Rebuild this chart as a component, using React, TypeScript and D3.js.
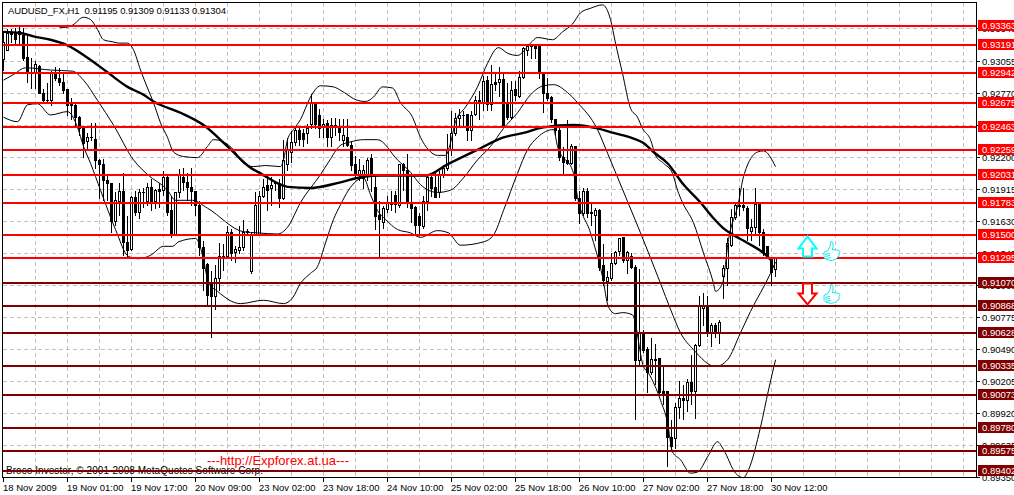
import React from "react";
import * as d3 from "d3";

// Prices are in pips (price x 10000)
const opens = [9307,9315,9331,9331,9332,9328,9309,9295,9295,9301,9277,9270,9270,9294,9290,9286,9280,9267,9266,9255,9245,9234,9237,9236,9217,9213,9199,9196,9163,9180,9189,9144,9138,9184,9171,9188,9180,9193,9180,9191,9190,9202,9172,9150,9188,9202,9197,9193,9189,9177,9139,9124,9107,9096,9112,9130,9131,9153,9135,9137,9139,9153,9118,9151,9151,9185,9195,9192,9196,9196,9183,9213,9224,9233,
9244,9241,9241,9249,9268,9257,9246,9250,9237,9248,9246,9235,9237,9230,9213,9204,9201,9204,9219,9193,9168,9162,9173,9178,9186,9177,9213,9208,9178,9175,9167,9158,9180,9202,9193,9188,9204,9210,9226,9241,9254,9257,9258,9244,9258,9270,9268,9288,9267,9286,9286,9289,9268,9255,9280,9274,9291,9315,9318,9318,9318,9294,9277,9273,9253,9244,9220,9217,9214,9229,9183,9170,9189,9170,9168,9172,9123,9109,9112,9125,9136,9148,9128,9131,9122,9039,9064,9049,9028,9040,9041,9011,9011,8970,8969,8997,9005,9003,9019,9011,9052,9085,9088,9063,9070,9063,9114,9121,9141,9166,9177,9177,9174,9154,9157,9178,9153,9140,9130,9119.5];
const highs = [9333,9334,9334,9335,9338,9335,9330,9309,9306,9302,9281,9286,9297,9301,9300,9295,9281,9273,9268,9257,9248,9242,9251,9251,9219,9219,9204,9197,9189,9197,9206,9168,9186,9190,9192,9193,9197,9201,9192,9197,9208,9204,9186,9188,9210,9211,9206,9211,9190,9181,9146,9126,9119,9124,9144,9143,9159,9156,9141,9159,9164,9156,9153,9189,9190,9201,9204,9203,9199,9201,9236,9237,9244,9246,
9246,9245,9250,9277,9268,9263,9254,9253,9255,9255,9254,9254,9254,9235,9221,9219,9213,9220,9223,9204,9181,9177,9186,9190,9190,9214,9215,9223,9204,9177,9171,9186,9204,9204,9206,9208,9213,9241,9261,9260,9263,9261,9258,9261,9275,9279,9293,9293,9302,9295,9301,9296,9286,9288,9288,9297,9318,9320,9320,9319,9319,9295,9291,9275,9253,9248,9229,9253,9232,9229,9190,9193,9193,9180,9175,9174,9143,9119,9135,9137,9148,9149,9137,9135,9124,9121,9066,9051,9059,9054,9041,9033,9012,8986,9001,9021,9017,9023,9044,9054,9097,9099,9097,9073,9073,9075,9124,9148,9174,9179,9193,9193,9177,9165,9193,9178,9156,9141,9130,9130.9];
const lows = [9297,9315,9322,9319,9319,9306,9286,9281,9281,9277,9269,9269,9266,9288,9284,9277,9257,9253,9248,9239,9220,9226,9235,9210,9183,9181,9181,9153,9159,9168,9132,9130,9137,9168,9165,9175,9177,9172,9174,9175,9186,9168,9148,9150,9184,9190,9181,9177,9168,9132,9101,9088,9059,9084,9101,9119,9130,9128,9126,9134,9137,9150,9116,9150,9150,9184,9172,9177,9190,9175,9182,9208,9215,9230,
9230,9229,9232,9245,9245,9237,9237,9229,9229,9239,9235,9229,9229,9208,9201,9199,9192,9199,9189,9155,9131,9156,9171,9172,9171,9175,9190,9175,9162,9150,9150,9156,9172,9185,9184,9184,9202,9208,9221,9239,9246,9248,9235,9235,9257,9253,9261,9261,9261,9279,9274,9246,9253,9253,9270,9273,9290,9310,9308,9308,9290,9260,9270,9251,9239,9217,9204,9213,9213,9181,9161,9168,9166,9159,9146,9119,9106,9092,9110,9124,9132,9126,9116,9121,8986,9035,9046,9010,9026,9017,9008,9000,8944,8959,8960,8987,8986,8993,9000,8987,9051,9070,9060,9051,9059,9054,9094,9106,9140,9164,9168,9172,9146,9146,9150,9141,9132,9131,9106,9113.3];
const closes = [9322,9330,9329,9325,9329,9308,9294,9294,9302,9277,9270,9270,9295,9290,9286,9279,9266,9266,9255,9245,9232,9237,9237,9217,9213,9199,9196,9163,9181,9189,9144,9137,9184,9171,9188,9188,9193,9180,9190,9189,9202,9171,9150,9188,9204,9197,9193,9189,9177,9139,9121,9097,9096,9112,9131,9131,9153,9134,9138,9139,9153,9154,9150,9177,9185,9193,9190,9195,9197,9183,9217,9226,9233,9244,
9236,9236,9245,9268,9249,9245,9249,9237,9248,9246,9242,9239,9230,9212,9204,9208,9208,9217,9204,9167,9164,9174,9179,9179,9178,9213,9208,9179,9174,9159,9159,9180,9202,9192,9184,9204,9210,9226,9241,9254,9257,9257,9244,9257,9270,9269,9287,9267,9285,9285,9289,9247,9255,9279,9275,9291,9317,9318,9318,9317,9294,9277,9272,9253,9244,9220,9215,9214,9229,9183,9170,9189,9170,9171,9172,9122,9110,9113,9125,9135,9147,9128,9135,9122,9039,9064,9048,9028,9040,9039,9010,9008,8970,8962,8997,9005,9003,9019,9011,9052,9088,9088,9063,9070,9063,9073,9121,9143,9166,9177,9176,9175,9156,9157,9178,9153,9135,9131,9117,9130.4];

const upperBars = [14,15.5,17.25,20,21.75,23.5,25,27.5,28.75,31,32.5,34.25,36,37.5,39.25,41,42.5,45,48.5,51,52.5,55,57.5,60,62.5,65.5,69.25,70,71,72.5,74.25,76.75,79.25,82.5,84.25,88.5,90.5,92.5,94.75,97.25,99.25,102.25,104.25,106.25,108.5,110.5,111.75,113,115.5,118.5,121,123.75,126,128.5,131.75,133.5,137.25,139.75,142.25,144.25,146.75,149.75,151.75,153,154.75,156.75,158.5,159.75,161.75,163,165,167.25,168.5,169.75,172.5,175,177.5,178,179.75,181.25,183.75,185,188.5,190,193];
const upperPips = [9335,9335,9337,9344,9342,9333,9324,9322,9321,9321,9315,9297,9281,9268,9250,9237,9224,9220,9219,9229,9235,9233,9226,9214,9211,9212,9211,9217,9235,9244,9253,9273,9283,9282,9279,9270,9269,9273,9282,9281,9268,9255,9237,9226,9221,9221,9232,9251,9264,9282,9303,9317,9312,9310,9321,9326,9324,9331,9338,9348,9352,9355,9342,9321,9294,9263,9255,9245,9235,9221,9214,9205,9190,9179,9161,9134,9107,9100,9107,9146,9179,9202,9224,9225,9211];

const midBars = [0,2.5,5.5,11.75,17.25,20,23.5,27.5,32.5,36,41,43,47.25,51,60,63.5,68.5,71,74.25,79.25,81.25,84.25,86.75,90,93.5,98.5,101.75,104.25,108.5,111.75,115,118.5,121.75,125,128.5,131.75,135,137.5,141,143.5,148.5,151,156,159.25,164.25,166.75,169.25,172.5,178,181,184.25,186.75,191.75,193];
const midPips = [9288,9293,9299,9297,9296,9288,9270,9248,9217,9204,9190,9181,9181,9174,9153,9152,9151,9157,9179,9204,9215,9230,9233,9235,9235,9217,9206,9195,9188,9190,9201,9217,9229,9245,9259,9275,9283,9284,9277,9268,9244,9223,9180,9152,9107,9084,9063,9048,9033,9039,9063,9082,9116,9126];

const lowerBars = [0,3.5,6,8.5,11.75,16,18.5,20,21.75,24.25,28,31.25,33.75,36.75,40,42.25,43.75,48,49.25,50,51.25,53.5,59.25,65,70,72.25,74.25,76.75,78.5,80.5,82.5,84.25,86.25,90,91.75,93.5,95.5,98.5,101.75,104.25,108.5,111.25,114.25,120,122.5,125,128.5,131,133.5,137.5,138.5,142.5,143.5,146.75,149.75,151.25,153,154.75,157.25,160,161.25,164.25,166,167.25,169.25,171.75,173.5,176.25,178.5,180,183,185,186.25,189.25,191.25,193];
const lowerPips = [9255,9251,9266,9267,9257,9260,9246,9229,9214,9190,9155,9131,9129,9132,9140,9140,9144,9147,9139,9128,9108,9100,9089,9092,9089,9094,9107,9116,9122,9143,9164,9177,9190,9201,9186,9172,9164,9155,9152,9148,9154,9152,9141,9144,9150,9172,9205,9226,9237,9244,9229,9205,9184,9152,9113,9086,9080,9081,9079,9033,9027,9003,8983,8957,8950,8938,8939,8954,8966,8959,8938,8934,8941,8979,9012,9039];

const maBars = [0,4.25,7.5,11.75,16,21,26,31,35,37.5,44.25,50,56,61.75,64.25,71,76.75,84.25,90,94.25,105.5,111,118.5,125,130,135,142.5,148.5,152.5,157.5,160,162.5,166,170,174.25,177.5,180,182.5,186,191,192.25];
const maPips = [9331,9330,9327,9324,9319,9308,9295,9282,9275,9269,9259,9248,9229,9210,9205,9193,9192,9197,9202,9203,9203,9213,9226,9237,9241,9246,9248,9245,9241,9236,9232,9224,9214,9195,9179,9165,9156,9150,9143,9131,9126];

const levelLabels = ["0.93363","0.93191","0.92942","0.92675","0.92463","0.92259","0.92031","0.91783","0.91500","0.91295","0.91070","0.90868","0.90628","0.90335","0.90073","0.89780","0.89575","0.89402"];
const levelIsUpper = [1,1,1,1,1,1,1,1,1,1,0,0,0,0,0,0,0,0];

const priceTicks = ["0.93340","0.93055","0.92770","0.92485","0.92200","0.91915","0.91630","0.91345","0.91060","0.90775","0.90490","0.90205","0.89920","0.89635","0.89350"];
const timeTicks = ["18 Nov 2009","19 Nov 01:00","19 Nov 17:00","20 Nov 09:00","23 Nov 02:00","23 Nov 18:00","24 Nov 10:00","25 Nov 02:00","25 Nov 18:00","26 Nov 10:00","27 Nov 02:00","27 Nov 18:00","30 Nov 12:00"];
const timeTickBars = [0,16,32,48,64,80,96,112,128,144,160,176,192];
const signalBar = 201;
const upSignalPips = 9131;
const downSignalPips = 9107;

const FONT = "'Liberation Sans', Arial, sans-serif";
const RED = "#ff0000";
const MAROON = "#800000";

const x = d3.scaleLinear().domain([0, 193]).range([3, 775]);
const y = d3.scaleLinear().domain([9305.5, 8940.2]).range([60.5, 470.7]);
const px = (p: number) => Math.round(y(p)) + 0.5;

function curve(bars: number[], pips: number[]) {
  const pts = bars.map((b, i) => [x(b) + 0.5, y(pips[i])] as [number, number]);
  return d3.line().curve(d3.curveMonotoneX)(pts) as string;
}

function Thumb({ tx, ty, color }: { tx: number; ty: number; color: string }) {
  return (
    <g transform={`translate(${tx},${ty})`} fill="none" stroke={color} strokeWidth={0.9}>
      <path d="M1,11 L5,9 L7,5 L8,0 L10,1 L10,6 L9,8 L16,9 Q18,11 16,12 L16,15 L14,16 L13,18 L8,19 L3,18 L1,16 Z" fill="#ffffff" />
      <path d="M2,13 L7,12 M2,15 L7,14 M3,17 L8,16" />
    </g>
  );
}

export default function App() {
  const hGrid = priceTicks.map((t) => px(+t * 10000));
  const vGrid = d3.range(0, 30).map((i) => Math.round(x(8 + 8 * i)) + 0.5);
  const ax = x(signalBar);
  const upY = y(upSignalPips);
  const downY = y(downSignalPips);
  return (
    <svg width={1014} height={495} viewBox="0 0 1014 495" style={{ position: "fixed", left: 0, top: 0, background: "#fff" }} fontFamily={FONT}>
      <rect x={0} y={0} width={1014} height={495} fill="#fff" />
      <g stroke="#c0c0c0" strokeWidth={1} strokeDasharray="4 3" shapeRendering="crispEdges">
        {hGrid.map((g, i) => <line key={i} x1={3} x2={976} y1={g} y2={g} />)}
        {vGrid.map((g, i) => <line key={i} x1={g} x2={g} y1={3} y2={477} />)}
      </g>

      <g shapeRendering="crispEdges">
        {opens.map((o, i) => {
          const c = closes[i];
          const cx = x(i) + 0.5;
          const top = px(Math.max(o, c));
          const bot = px(Math.min(o, c));
          return (
            <g key={i}>
              <line x1={cx} x2={cx} y1={px(highs[i])} y2={px(lows[i])} stroke="#000" />
              <rect x={cx - 1} y={top} width={2} height={Math.max(bot - top, 0.01)} fill={c > o ? "#fff" : "#000"} stroke="#000" strokeWidth={1} />
            </g>
          );
        })}
      </g>

      <g fill="none" stroke="#000">
        <path d={curve(upperBars, upperPips)} strokeWidth={1} />
        <path d={curve(midBars, midPips)} strokeWidth={1} />
        <path d={curve(lowerBars, lowerPips)} strokeWidth={1} />
        <path d={curve(maBars, maPips)} strokeWidth={2.4} />
      </g>

      <text x={207} y={465} fontSize={13} fill={RED} textLength={142}>---http://Expforex.at.ua---</text>
      <text x={6} y={474} fontSize={10} fill="#000" textLength={257}>Broco Investor, © 2001-2008 MetaQuotes Software Corp.</text>

      <g shapeRendering="crispEdges">
        {levelLabels.map((l, i) => {
          const ly = Math.round(y(+l * 10000));
          return <rect key={i} x={3} width={973} y={ly - 1} height={2} fill={levelIsUpper[i] ? RED : MAROON} />;
        })}
      </g>

      <path d={`M${ax + 0.5},${upY - 20} L${ax + 9.5},${upY - 8} L${ax + 5},${upY - 8} L${ax + 5},${upY} L${ax - 4},${upY} L${ax - 4},${upY - 8} L${ax - 8.5},${upY - 8} Z`} fill="#fff" stroke="#00ffff" strokeWidth={2} />
      <path d={`M${ax + 0.5},${downY + 21} L${ax + 9.5},${downY + 10} L${ax + 5},${downY + 10} L${ax + 5},${downY} L${ax - 4},${downY} L${ax - 4},${downY + 10} L${ax - 8.5},${downY + 10} Z`} fill="#fff" stroke={RED} strokeWidth={2} />
      <Thumb tx={ax + 16} ty={upY - 15} color="#00e5e5" />
      <Thumb tx={ax + 16} ty={downY + 1} color="#00e5e5" />

      <text x={8} y={14} fontSize={9.5} fill="#000" xmlSpace="preserve" textLength={218}>AUDUSD_FX,H1  0.91195 0.91309 0.91133 0.91304</text>

      <rect x={2.5} y={2.5} width={974} height={475} fill="none" stroke="#000" shapeRendering="crispEdges" />

      <g shapeRendering="crispEdges" stroke="#000">
        {timeTickBars.map((b, i) => <line key={i} x1={x(b) + 0.5} x2={x(b) + 0.5} y1={478} y2={482} />)}
        {hGrid.map((g, i) => <line key={i} x1={977} x2={980} y1={g} y2={g} />)}
      </g>
      <g fontSize={9.5} fill="#000">
        {timeTicks.map((t, i) => <text key={i} x={x(timeTickBars[i])} y={491}>{t}</text>)}
        {priceTicks.map((t, i) => <text key={i} x={982} y={hGrid[i] + 3.5}>{t}</text>)}
      </g>
      {levelLabels.map((l, i) => {
        const ly = Math.round(y(+l * 10000));
        return (
          <g key={i}>
            <rect x={978} y={ly - 6} width={36} height={11} fill={levelIsUpper[i] ? RED : MAROON} shapeRendering="crispEdges" />
            <text x={982} y={ly + 3} fontSize={9.5} fill="#fff">{l}</text>
          </g>
        );
      })}
    </svg>
  );
}
